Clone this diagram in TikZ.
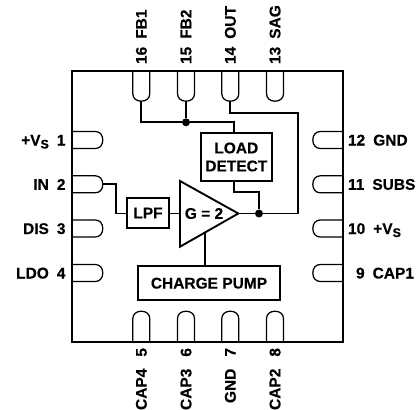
\documentclass[tikz,border=0pt]{standalone}
\usepackage{fontspec}
\setmainfont[BoldFeatures={FakeBold=0.25}]{Liberation Sans}
\newcommand{\lbl}{\fontsize{15.5}{18}\selectfont\bfseries}
\newcommand{\vsub}{+V\raisebox{-3pt}{\fontsize{12.5}{12.5}\selectfont S}}
\newcommand{\pinshape}[4]{%
  \begin{scope}[shift={(#2,#3)},rotate=#4]
    \draw[pinline] (0,-8.5) -- (23,-8.5) .. controls (27.5,-8.5) and (30.5,-5) .. (30.5,0)
      .. controls (30.5,5) and (27.5,8.5) .. (23,8.5) -- (0,8.5);
    \coordinate (#1) at (30.5,0);
  \end{scope}}
\tikzset{
  pinline/.style={line width=1.25pt,black},
  wire/.style={line width=1.9pt,line join=miter},
  blockbox/.style={draw,line width=1.9pt,inner sep=0pt,outer sep=0pt,align=center,font=\lbl},
  pinlabel/.style={inner sep=0pt,outer sep=0pt,font=\lbl},
  joint/.style={circle,fill=black,inner sep=0pt,minimum size=8pt}
}
\begin{document}
\begin{tikzpicture}[x=1pt,y=-1pt]
\useasboundingbox (0,0) rectangle (419,409);
% package body
\draw[line width=1.9pt] (72.3,70.7) rectangle (343.3,341.7);
% pins
\pinshape{p16}{141.3}{70.7}{-90}
\pinshape{p15}{186}{70.7}{-90}
\pinshape{p14}{230.3}{70.7}{-90}
\pinshape{p13}{275}{70.7}{-90}
\pinshape{p5}{141.3}{341.7}{90}
\pinshape{p6}{186}{341.7}{90}
\pinshape{p7}{230.3}{341.7}{90}
\pinshape{p8}{275}{341.7}{90}
\pinshape{p1}{72.3}{140}{0}
\pinshape{p2}{72.3}{184.3}{0}
\pinshape{p3}{72.3}{228.5}{0}
\pinshape{p4}{72.3}{273}{0}
\pinshape{p12}{343.3}{140}{180}
\pinshape{p11}{343.3}{184.3}{180}
\pinshape{p10}{343.3}{228.5}{180}
\pinshape{p9}{343.3}{273}{180}
% blocks
\node[blockbox,minimum width=70.7pt,minimum height=48pt] (load) at (236.3,157) {LOAD\\DETECT};
\node[blockbox,minimum width=42.6pt,minimum height=29.3pt] (lpf) at (148,213) {LPF};
\node[blockbox,minimum width=142.6pt,minimum height=33.7pt] (pump) at (209,283.2) {CHARGE PUMP};
% amplifier
\coordinate (triA) at (180,181);
\coordinate (triB) at (180,246.7);
\coordinate (triC) at (238.3,213.5);
\coordinate (triIn) at (180,213.5);
\coordinate (triPump) at (205.3,232.7);
\draw[line width=1.9pt,line join=miter] (triA) -- (triC) -- (triB) -- cycle;
\node[pinlabel] (gain) at (204,213.5) {G = 2};
% junctions and bends
\node[joint] (j15) at (186,122.3) {};
\node[joint] (jout) at (259,213.5) {};
\coordinate (ldin) at (234,133);
\coordinate (ldout) at (234,181);
\coordinate (ldbend) at (234,191.7);
\coordinate (outr) at (298.3,213.5);
\coordinate (outt) at (298.3,112.7);
\coordinate (outl) at (230.3,112.7);
\coordinate (inbend) at (116,184.3);
\coordinate (inlow) at (116,213.5);
% connectors
\draw[wire] (p16) |- (j15);
\draw[wire] (p15) -- (j15);
\draw[wire] (j15) -| (ldin);
\draw[wire] (ldout) -- (ldbend) -| (jout);
\draw[wire] (triC) -- (jout) -- (outr) -- (outt) -- (outl) -- (p14);
\draw[wire] (p2) -- (inbend) -- (inlow) -- (lpf.west |- inlow);
\draw[wire] (lpf.east |- triIn) -- (triIn);
\draw[wire] (triPump) -- (triPump |- pump.north);
% top labels
\node[pinlabel,rotate=90,anchor=base west] (t16) at (146.7,64) {16\hspace{8pt}FB1};
\node[pinlabel,rotate=90,anchor=base west] (t15) at (191.4,64) {15\hspace{8pt}FB2};
\node[pinlabel,rotate=90,anchor=base west] (t14) at (235.7,64) {14\hspace{8pt}OUT};
\node[pinlabel,rotate=90,anchor=base west] (t13) at (280.4,64) {13\hspace{8pt}SAG};
% bottom labels
\node[pinlabel,rotate=90,anchor=base east] (t5) at (146.7,348) {CAP4\hspace{12pt}5};
\node[pinlabel,rotate=90,anchor=base east] (t6) at (191.4,348) {CAP3\hspace{12pt}6};
\node[pinlabel,rotate=90,anchor=base east] (t7) at (235.7,348) {GND\hspace{12pt}7};
\node[pinlabel,rotate=90,anchor=base east] (t8) at (280.4,348) {CAP2\hspace{12pt}8};
% left labels
\node[pinlabel,anchor=base east] (t1) at (65.5,145.5) {\vsub\hspace{8pt}1};
\node[pinlabel,anchor=base east] (t2) at (65.5,189.8) {IN\hspace{8pt}2};
\node[pinlabel,anchor=base east] (t3) at (65.5,234) {DIS\hspace{8pt}3};
\node[pinlabel,anchor=base east] (t4) at (65.5,278.5) {LDO\hspace{8pt}4};
% right labels
\node[pinlabel,anchor=base west] (t12) at (348,145.5) {12\hspace{8pt}GND};
\node[pinlabel,anchor=base west] (t11) at (348,189.8) {11\hspace{8pt}SUBS};
\node[pinlabel,anchor=base west] (t10) at (348,234) {10\hspace{8pt}\vsub};
\node[pinlabel,anchor=base west] (t9) at (348,278.5) {\hspace{8pt}9\hspace{8pt}CAP1};
\end{tikzpicture}
\end{document}
